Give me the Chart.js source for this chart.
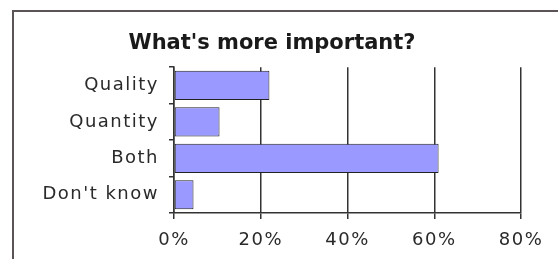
<!DOCTYPE html>
<html>
<head>
<meta charset="utf-8">
<script src="https://cdn.jsdelivr.net/npm/chart.js@4/dist/chart.umd.min.js"></script>
<style>
  html, body { margin: 0; padding: 0; background: #fff; }
  #wrap { width: 558px; height: 259px; }
</style>
</head>
<body>
<div id="wrap"><canvas id="myChart" width="558" height="259"></canvas></div>
<script>
let categories = ["Quality", "Quantity", "Both", "Don't know"];
let answers = [22, 10.5, 61, 4.5];
let tickValues = [0, 20, 40, 60, 80];

// grey frame round the chart, like the old picture; also spaced-out axis text
let framePlugin = {
  id: "frame",
  beforeDraw: function (chart) {
    let ctx = chart.ctx;
    ctx.letterSpacing = "1.5px";
    ctx.save();
    ctx.strokeStyle = "#5a5454";
    ctx.lineWidth = 2;
    ctx.beginPath();
    ctx.moveTo(13, 270);
    ctx.lineTo(13, 11);
    ctx.lineTo(570, 11);
    ctx.stroke();
    ctx.restore();
  },
  afterDraw: function (chart) {
    chart.ctx.letterSpacing = "0px";
  }
};

let ctx = document.getElementById("myChart").getContext("2d");
let chart = new Chart(ctx, {
  type: "bar",
  data: {
    labels: categories,
    datasets: [{
      data: answers,
      backgroundColor: "#9999ff",
      borderColor: "#222222",
      borderWidth: 1,
      borderSkipped: false,
      barPercentage: 0.8,
      categoryPercentage: 1
    }]
  },
  options: {
    indexAxis: "y",
    responsive: false,
    animation: false,
    layout: { padding: { top: 31, left: 23, right: 37, bottom: 0 } },
    plugins: {
      legend: { display: false },
      tooltip: { enabled: false },
      title: {
        display: true,
        text: "What's more important?",
        color: "#1a1a1a",
        font: { family: "DejaVu Sans", size: 21, weight: "bold", lineHeight: 1.2 },
        padding: { top: 0, bottom: 11 }
      }
    },
    scales: {
      x: {
        min: 0,
        max: 80,
        afterBuildTicks: function (axis) {
          axis.ticks = tickValues.map(function (v) { return { value: v }; });
        },
        afterFit: function (axis) { axis.height = 46; },
        grid: { color: "#333", lineWidth: 1.5, tickLength: 6 },
        border: { color: "#333", width: 1.5 },
        ticks: {
          color: "#2a2a2a",
          padding: 11,
          maxRotation: 0,
          font: { family: "DejaVu Sans", size: 18 },
          callback: function (v) { return v + "%"; }
        }
      },
      y: {
        afterFit: function (axis) { axis.width = 151; },
        grid: { drawOnChartArea: false, color: "#333", lineWidth: 1.5, tickLength: 5 },
        border: { color: "#333", width: 1.5 },
        ticks: {
          color: "#2a2a2a",
          padding: 10,
          font: { family: "DejaVu Sans", size: 18 }
        }
      }
    }
  },
  plugins: [framePlugin]
});

// keep the title without the extra letter spacing
let titleBox = chart.titleBlock;
let drawTitle = titleBox.draw;
titleBox.draw = function () {
  chart.ctx.letterSpacing = "0px";
  drawTitle.apply(titleBox, arguments);
  chart.ctx.letterSpacing = "1.5px";
};
chart.draw();
</script>
</body>
</html>
